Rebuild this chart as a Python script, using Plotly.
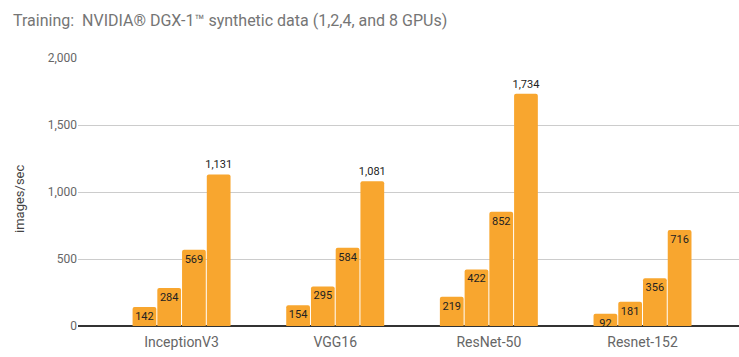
import plotly.graph_objects as go

categories = ["InceptionV3", "VGG16", "ResNet-50", "Resnet-152"]
gpu_labels = ["1 GPU", "2 GPUs", "4 GPUs", "8 GPUs"]
gpu1 = [142, 154, 219, 92]
gpu2 = [284, 295, 422, 181]
gpu4 = [569, 584, 852, 356]
gpu8 = [1131, 1081, 1734, 716]
y_ticks = [0, 500, 1000, 1500, 2000]
y_title = "images/sec"

series = [gpu1, gpu2, gpu4, gpu8]
color = "#F8A62F"

W, H = 739, 357

fig = go.Figure()
for name, vals in zip(gpu_labels, series):
    positions = ["outside" if v > 1000 else "inside" for v in vals]
    fig.add_trace(go.Bar(
        x=categories, y=vals, name=name,
        text=[f"{v:,}" for v in vals],
        textposition=positions,
        insidetextanchor="end",
        textangle=0,
        constraintext="none",
        cliponaxis=False,
        textfont=dict(family="Roboto", size=11, color="#222222"),
        outsidetextfont=dict(family="Roboto", size=11, color="#222222"),
        insidetextfont=dict(family="Roboto", size=11, color="#222222"),
        marker=dict(color=color, line=dict(width=0), cornerradius=2),
        showlegend=False,
    ))

fig.update_layout(
    width=W, height=H,
    margin=dict(l=78, r=0, t=58, b=31),
    paper_bgcolor="white", plot_bgcolor="white",
    barmode="group", bargap=0.356, bargroupgap=0.04,
    font=dict(family="Roboto", color="#666666"),
    title=dict(
        text="Training:  NVIDIA® DGX-1™ synthetic data (1,2,4, and 8 GPUs)",
        x=13/W, xanchor="left", y=1-20/H, yanchor="middle",
        font=dict(family="Roboto", size=16, color="#757575"),
    ),
    xaxis=dict(
        range=[-0.674, 3.628], showgrid=False, showline=False,
        ticks="", tickfont=dict(family="Roboto", size=14, color="#666666"),
        ticklabelstandoff=6,
        zeroline=False,
    ),
    yaxis=dict(
        range=[0, 2000], tickvals=y_ticks, tickformat=",",
        showgrid=True, gridcolor="#CCCCCC", gridwidth=1,
        zeroline=True, zerolinecolor="#333333", zerolinewidth=1.2,
        tickfont=dict(family="Roboto", size=12, color="#666666"),
        ticks="", ticklen=0,
    ),
    annotations=[dict(
        text=y_title, textangle=-90, showarrow=False,
        xref="paper", yref="paper",
        x=(19 - 78) / (W - 78), y=(326 - 199) / (326 - 58),
        xanchor="center", yanchor="middle",
        font=dict(family="Roboto", size=13, color="#444444"),
    )],
)

fig.write_html(
    "out.html",
    config={"displayModeBar": False, "staticPlot": True},
    post_script="document.body.style.margin='0';document.body.style.padding='0';",
)
